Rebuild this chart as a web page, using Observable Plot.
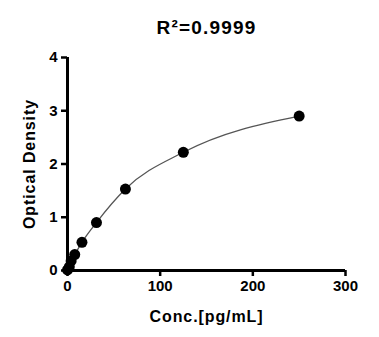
<!DOCTYPE html>
<html><head><meta charset="utf-8">
<script src="https://cdn.jsdelivr.net/npm/d3@7"></script>
<script src="https://cdn.jsdelivr.net/npm/@observablehq/plot@0.6"></script>
<style>body{margin:0;background:#fff}</style>
</head><body><div id="chart"></div>
<script>
const conc = [0, 1.95, 3.9, 7.8, 15.6, 31.25, 62.5, 125, 250];
const od = [0.01, 0.07, 0.18, 0.30, 0.53, 0.90, 1.53, 2.22, 2.90];
const xTicks = [0, 100, 200, 300];
const yTicks = [0, 1, 2, 3, 4];
const title = "R²=0.9999";
const data = conc.map((c, i) => ({c, v: od[i]}));
const font = "Liberation Sans, Arial, sans-serif";
const chart = Plot.plot({
  width: 379, height: 337,
  marginTop: 57, marginBottom: 67, marginLeft: 67, marginRight: 34,
  style: {fontFamily: font, fontWeight: "bold", fontSize: "15px", color: "#000", background: "#fff"},
  x: {domain: [0, 300]},
  y: {domain: [0, 4]},
  marks: [
    Plot.axisX({ticks: xTicks, tickFormat: "d", tickSize: 6, stroke: "#000", strokeWidth: 2.5, tickPadding: 4, label: "Conc.[pg/mL]", labelAnchor: "center", labelArrow: "none", labelOffset: 51, fontSize: 15}),
    Plot.axisY({ticks: yTicks, tickFormat: "d", tickSize: 6, stroke: "#000", strokeWidth: 2.5, tickPadding: 4, label: "Optical Density", labelAnchor: "center", labelArrow: "none", labelOffset: 44, fontSize: 15}),
    Plot.ruleX([0], {stroke: "#000", strokeWidth: 3}),
    Plot.ruleY([0], {stroke: "#000", strokeWidth: 3}),
    Plot.line(data, {x: "c", y: "v", curve: "monotone-x", stroke: "#555", strokeWidth: 1.3}),
    Plot.dot(data, {x: "c", y: "v", r: 5.5, fill: "#000", stroke: "none"}),
    Plot.text([title], {frameAnchor: "top", dy: -37, fontSize: 19, fontWeight: "bold", fill: "#000"})
  ]
});
document.getElementById("chart").appendChild(chart);
chart.querySelectorAll("g[aria-label='x-axis label'] text, g[aria-label='y-axis label'] text").forEach(t => { t.style.fontSize = "16px"; t.style.letterSpacing = "0.9px"; });
chart.querySelectorAll("g[aria-label='text'] text").forEach(t => { t.style.letterSpacing = "1.2px"; });
chart.querySelectorAll("g[aria-label='x-axis tick'], g[aria-label='y-axis tick']").forEach(g => { g.setAttribute("stroke-width", "2.5"); g.setAttribute("stroke", "#000"); });
</script>
</body></html>
